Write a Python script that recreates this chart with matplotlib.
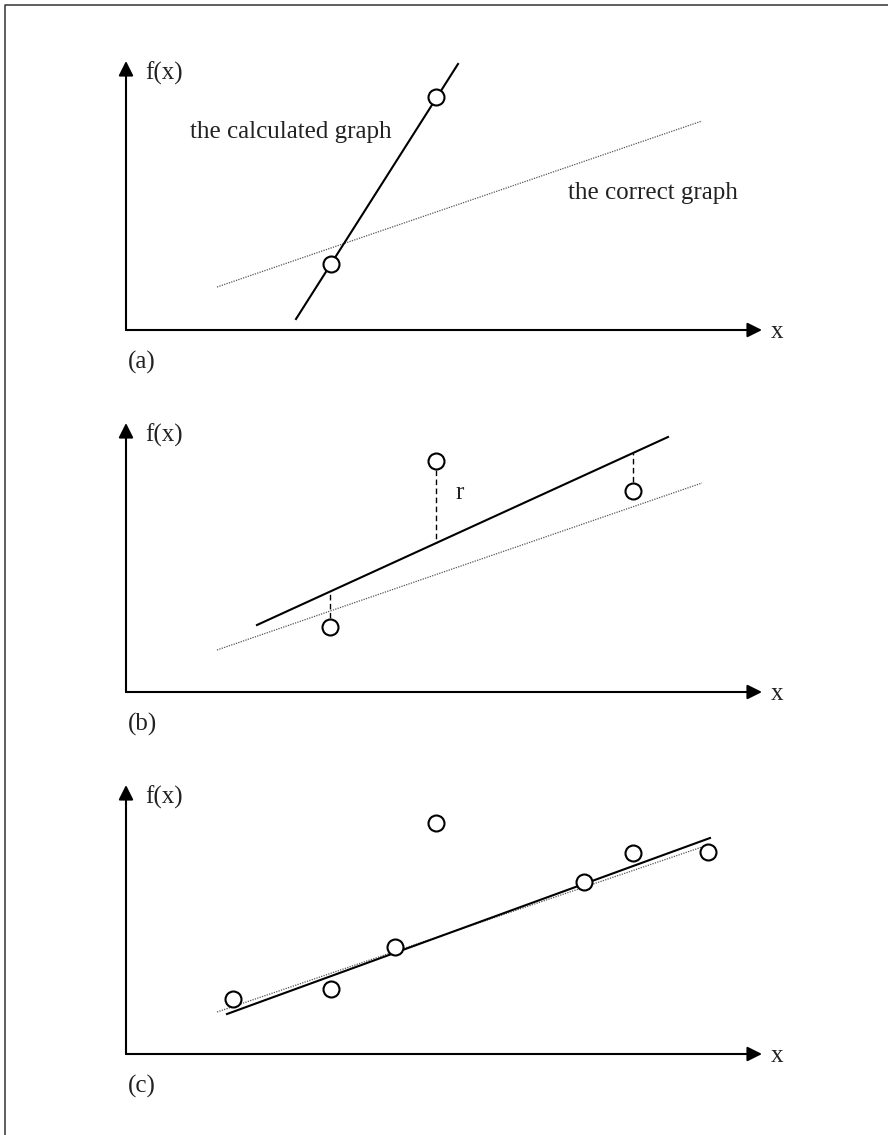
import matplotlib.pyplot as plt
from matplotlib.lines import Line2D

plt.rcParams['font.family'] = ['Liberation Serif', 'DejaVu Serif']

# 数据（每个面板：原点在坐标轴交点，单位任意）
# (a) 两个点决定的直线
a_calc_x = [17.0, 33.2]
a_calc_y = [1.1, 26.6]
a_pts_x = [20.5, 31.0]
a_pts_y = [6.6, 23.3]
a_true_x = [9.1, 57.6]
a_true_y = [4.3, 20.9]

# (b) 三个点，残差 r
b_calc_x = [13.1, 54.2]
b_calc_y = [6.7, 25.5]
b_true_x = [9.1, 57.6]
b_true_y = [4.2, 20.9]
b_pts_x = [20.4, 31.0, 50.7]
b_pts_y = [6.5, 23.1, 20.1]
b_foot_y = [10.0, 14.9, 23.9]

# (c) 多个点拟合
c_pts_x = [10.7, 20.5, 26.9, 31.0, 45.8, 50.7, 58.2]
c_pts_y = [5.5, 6.5, 10.7, 23.1, 17.2, 20.1, 20.2]
c_calc_x = [10.1, 58.4]
c_calc_y = [4.0, 21.6]
c_true_x = [9.1, 57.9]
c_true_y = [4.2, 20.8]

panel_labels = ['(a)', '(b)', '(c)']
axis_y_px = [330, 692, 1054]

W, H = 888, 1135
fig = plt.figure(figsize=[W / 100, H / 100], dpi=100)

# 外框（只有左边和上边）
fig.add_artist(Line2D([4.5 / W, 4.5 / W, 1.0], [0.0, 1 - 4.5 / H, 1 - 4.5 / H],
                      transform=fig.transFigure, color='#333333', lw=1.1))

txt = dict(fontsize=18, color='#222222')
axes = []
for i, ay in enumerate(axis_y_px):
    # 坐标轴区域：左边 100px，宽 788px；原点下方 60px，高 340px
    ax = fig.add_axes([100 / W, 1 - (ay + 60) / H, 788 / W, 340 / H])
    ax.set_xlim(-2.6, 76.2)
    ax.set_ylim(-6.0, 28.0)
    ax.axis('off')
    # 带箭头的坐标轴
    ax.annotate('', xy=(63.6, 0), xytext=(0, 0),
                arrowprops=dict(arrowstyle='-|>', lw=1.5, color='black', mutation_scale=22, shrinkA=0, shrinkB=0))
    ax.annotate('', xy=(0, 26.9), xytext=(0, 0),
                arrowprops=dict(arrowstyle='-|>', lw=1.5, color='black', mutation_scale=22, shrinkA=0, shrinkB=0))
    ax.text(1.9, 25.7, 'f(x)', va='center', ha='left', **txt)
    ax.text(64.5, -0.2, 'x', va='center', ha='left', **txt)
    ax.text(0.2, -3.2, panel_labels[i], va='center', ha='left', **txt)
    axes.append(ax)

dot = dict(color='#555555', lw=0.9, linestyle=(0, (1, 1)))
solid = dict(color='black', lw=1.5)
circ = dict(linestyle='none', marker='o', markersize=11.5, markerfacecolor='white',
            markeredgecolor='black', markeredgewidth=1.5, zorder=5)

# (a)
ax = axes[0]
ax.plot(a_true_x, a_true_y, **dot)
ax.plot(a_calc_x, a_calc_y, **solid)
ax.plot(a_pts_x, a_pts_y, **circ)
ax.text(6.4, 19.8, 'the calculated graph', va='center', ha='left', **txt)
ax.text(44.2, 13.7, 'the correct graph', va='center', ha='left', **txt)

# (b)
ax = axes[1]
ax.plot(b_true_x, b_true_y, **dot)
ax.plot(b_calc_x, b_calc_y, **solid)
for px, py, fy in zip(b_pts_x, b_pts_y, b_foot_y):
    ax.plot([px, px], [py, fy], color='black', lw=1.0, linestyle=(0, (4, 2.5)))
ax.plot(b_pts_x, b_pts_y, **circ)
ax.text(32.9, 19.9, 'r', va='center', ha='left', **txt)

# (c)
ax = axes[2]
ax.plot(c_true_x, c_true_y, **dot)
ax.plot(c_calc_x, c_calc_y, **solid)
ax.plot(c_pts_x, c_pts_y, **circ)

plt.savefig('out.png', dpi=100)
